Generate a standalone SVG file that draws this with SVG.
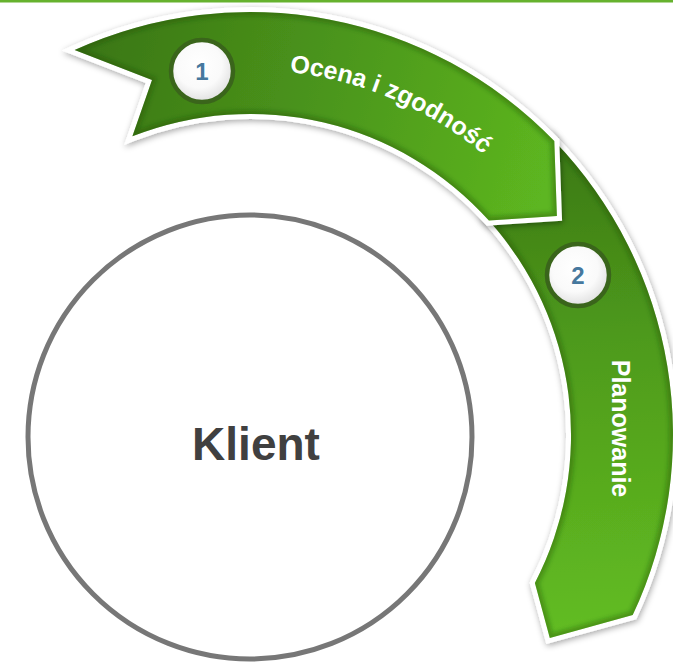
<svg xmlns="http://www.w3.org/2000/svg" xmlns:xlink="http://www.w3.org/1999/xlink" width="673" height="665" viewBox="0 0 673 665">
  <style>
    .band { stroke: #ffffff; stroke-width: 10; stroke-linejoin: miter; paint-order: stroke; }
    .bevel { fill: none; stroke: #1f4a08; stroke-opacity: 0.35; stroke-width: 8; }
    .badge { fill: url(#badgeFill); stroke: #3a651b; stroke-width: 4.5; }
    .num { font-family: "Liberation Sans", Arial, sans-serif; font-weight: bold; font-size: 24px; fill: #46789e; text-anchor: middle; }
    .label { font-family: "Liberation Sans", Arial, sans-serif; font-weight: bold; font-size: 25px; fill: #ffffff; }
    .client-ring { fill: #ffffff; stroke: #777777; stroke-width: 5; }
    .client-text { font-family: "Liberation Sans", Arial, sans-serif; font-weight: bold; font-size: 46px; fill: #404040; text-anchor: middle; }
  </style>
  <defs>
    <!-- curved arrow outlines, concentric around (250,435): outer r 423, inner r 321 -->
    <path id="arrow1Shape" d="M74.6,50.1 A423,423 0 0 1 554.3,141.1 L556.9,216.1 L488.9,220.6 A321,321 0 0 0 132.4,136.3 L152,80 Z"/>
    <path id="arrow2Shape" d="M554.3,141.1 A423,423 0 0 1 632.7,615.1 L549.8,637.9 L534.9,583.0 A321,321 0 0 0 488.9,220.6 L556.9,216.1 Z"/>
    <path id="label1Path" d="M186.6,75.5 A365,365 0 0 1 552.6,230.9"/>
    <clipPath id="clip1"><use xlink:href="#arrow1Shape"/></clipPath>
    <clipPath id="clip2"><use xlink:href="#arrow2Shape"/></clipPath>
    <linearGradient id="fill1" gradientUnits="userSpaceOnUse" x1="80" y1="60" x2="545" y2="190">
      <stop offset="0" stop-color="#3a7615"/>
      <stop offset="0.5" stop-color="#4b951b"/>
      <stop offset="1" stop-color="#5db620"/>
    </linearGradient>
    <linearGradient id="fill2" gradientUnits="userSpaceOnUse" x1="560" y1="150" x2="590" y2="630">
      <stop offset="0" stop-color="#3c7a16"/>
      <stop offset="0.4" stop-color="#4e9a1b"/>
      <stop offset="1" stop-color="#62bc22"/>
    </linearGradient>
    <radialGradient id="badgeFill" cx="0.45" cy="0.4" r="0.62">
      <stop offset="0" stop-color="#ffffff"/>
      <stop offset="0.6" stop-color="#fafafa"/>
      <stop offset="1" stop-color="#dedede"/>
    </radialGradient>
    <filter id="shadow" x="-10%" y="-10%" width="120%" height="120%">
      <feDropShadow dx="1" dy="2" stdDeviation="3" flood-color="#000000" flood-opacity="0.35"/>
    </filter>
    <filter id="soft" x="-10%" y="-10%" width="120%" height="120%">
      <feGaussianBlur stdDeviation="2"/>
    </filter>
  </defs>

  <!-- top rule -->
  <rect x="0" y="0" width="673" height="2.5" fill="#66b22e"/>

  <!-- central client circle -->
  <g id="klient">
    <circle class="client-ring" cx="250" cy="437" r="222"/>
    <text class="client-text" x="256" y="460">Klient</text>
  </g>

  <!-- step 2: Planowanie -->
  <g id="step-2">
    <use xlink:href="#arrow2Shape" class="band" fill="url(#fill2)" filter="url(#shadow)"/>
    <g clip-path="url(#clip2)">
      <use xlink:href="#arrow2Shape" class="bevel" filter="url(#soft)"/>
    </g>
    <circle class="badge" cx="578" cy="275" r="31"/>
    <text class="num" x="578" y="283.5">2</text>
    <text class="label" transform="translate(612,428.5) rotate(90)" text-anchor="middle">Planowanie</text>
  </g>

  <!-- step 1: Ocena i zgodność -->
  <g id="step-1">
    <use xlink:href="#arrow1Shape" class="band" fill="url(#fill1)" filter="url(#shadow)"/>
    <g clip-path="url(#clip1)">
      <use xlink:href="#arrow1Shape" class="bevel" filter="url(#soft)"/>
    </g>
    <circle class="badge" cx="202" cy="71" r="31"/>
    <text class="num" x="202" y="79.5">1</text>
    <text class="label"><textPath xlink:href="#label1Path" startOffset="50%" text-anchor="middle">Ocena i zgodność</textPath></text>
  </g>
</svg>
